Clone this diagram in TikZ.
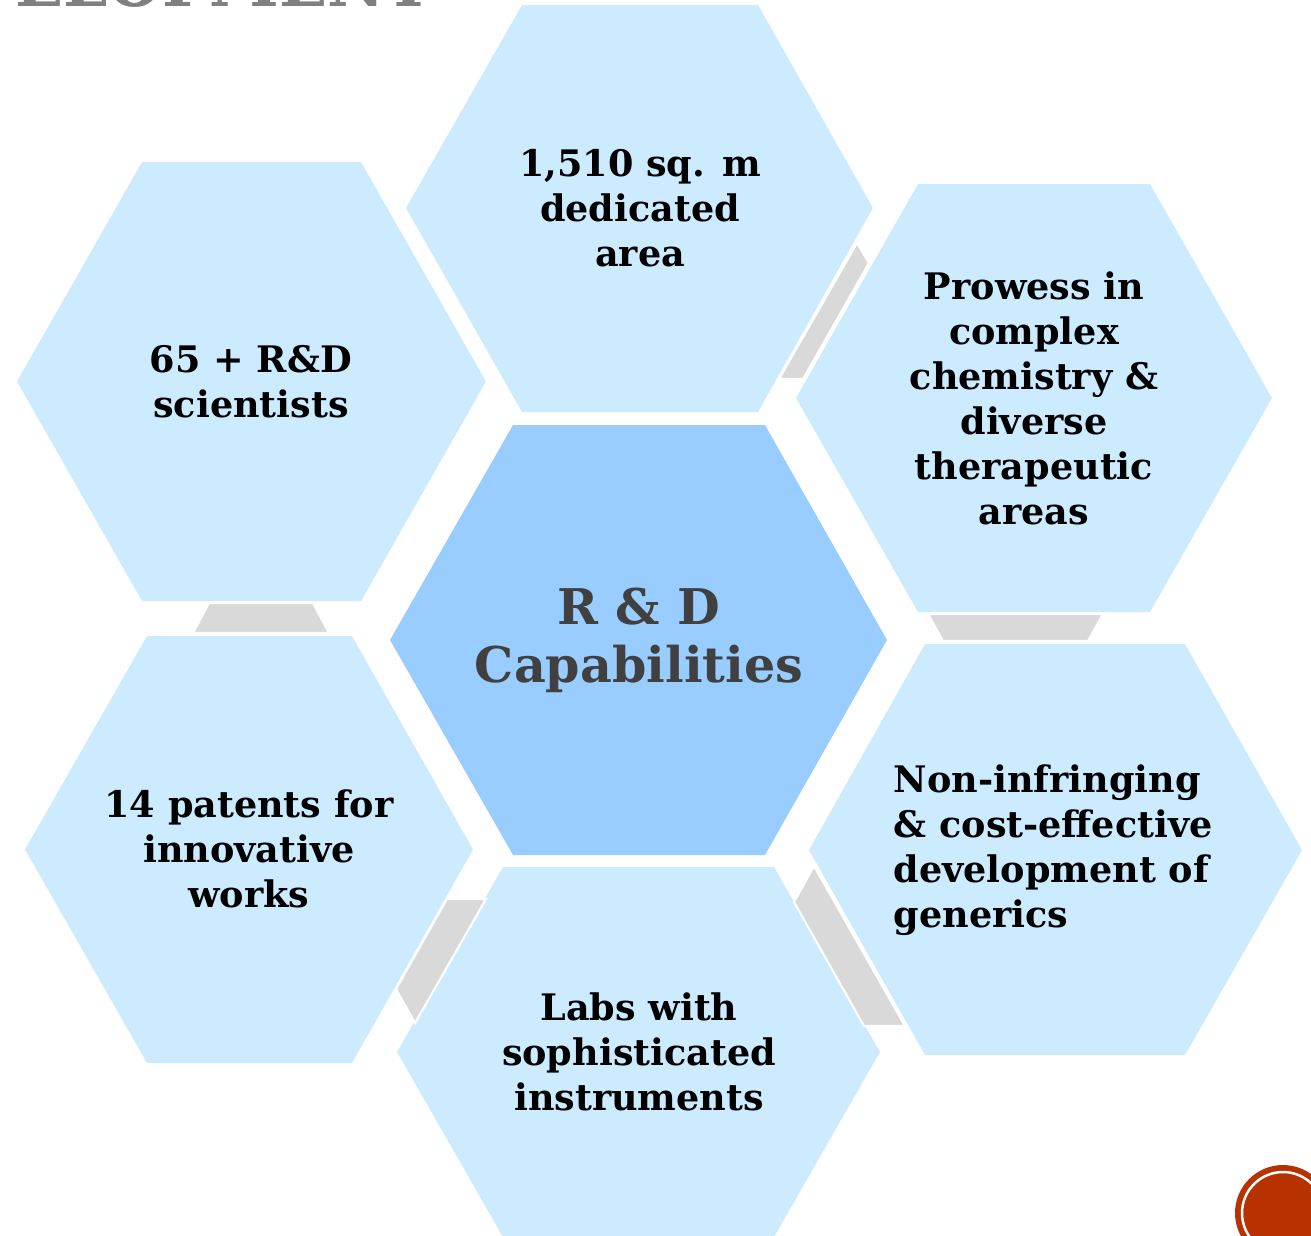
\documentclass[tikz,border=0pt]{standalone}
\usepackage{fontspec}
\setmainfont{DejaVu Serif}
\definecolor{hexblue}{HTML}{CCEBFF}
\definecolor{coreblue}{HTML}{99CCFF}
\definecolor{linkgray}{HTML}{D9D9D9}
\definecolor{titlegray}{HTML}{808080}
\definecolor{coretext}{HTML}{404040}
\definecolor{badgered}{HTML}{B83200}

\begin{document}
\begin{tikzpicture}[
    hex/.style = {fill=hexblue},
    link/.style = {fill=linkgray, draw=white, line width=.6pt},
    hextext/.style = {align=center, inner sep=0pt,
      font=\fontsize{10.4}{12.8}\selectfont\bfseries},
  ]
  \useasboundingbox (0,0) rectangle (13.11,-12.35);
  \clip (0,0) rectangle (13.11,-12.35);

  \node [anchor=base east, inner sep=0pt, text=titlegray, xscale=.92, transform shape,
    font=\fontsize{19.5}{22}\selectfont\bfseries] (title) at (4.33,-.065) {VELOPMENT};

  \fill [hex] (1.42,-1.62) -- (3.61,-1.62) -- (4.86,-3.815) -- (3.61,-6.01) -- (1.42,-6.01) -- (.17,-3.815) -- cycle;
  \fill [hex] (5.22,-.05) -- (7.58,-.05) -- (8.73,-2.08) -- (7.58,-4.12) -- (5.22,-4.12) -- (4.06,-2.08) -- cycle;
  \fill [hex] (9.18,-1.84) -- (11.50,-1.84) -- (12.72,-3.98) -- (11.50,-6.12) -- (9.18,-6.12) -- (7.96,-3.98) -- cycle;
  \fill [hex] (9.25,-6.44) -- (11.85,-6.44) -- (13.02,-8.50) -- (11.85,-10.55) -- (9.25,-10.55) -- (8.09,-8.50) -- cycle;
  \fill [hex] (1.47,-6.36) -- (3.52,-6.36) -- (4.73,-8.495) -- (3.52,-10.63) -- (1.47,-10.63) -- (.25,-8.495) -- cycle;
  \fill [hex] (5.03,-8.67) -- (7.74,-8.67) -- (8.80,-10.52) -- (7.74,-12.37) -- (5.03,-12.37) -- (3.97,-10.52) -- cycle;
  \fill [coreblue] (5.13,-4.25) -- (7.65,-4.25) -- (8.87,-6.40) -- (7.65,-8.55) -- (5.13,-8.55) -- (3.90,-6.40) -- cycle;

  \filldraw [link] (8.57,-2.43) -- (8.69,-2.63) -- (8.03,-3.79) -- (7.79,-3.79) -- cycle;
  \filldraw [link] (2.09,-6.03) -- (3.13,-6.03) -- (3.29,-6.33) -- (1.93,-6.33) -- cycle;
  \filldraw [link] (9.28,-6.14) -- (11.03,-6.14) -- (10.88,-6.41) -- (9.43,-6.41) -- cycle;
  \filldraw [link] (4.47,-8.99) -- (4.86,-8.99) -- (4.15,-10.23) -- (3.96,-9.89) -- cycle;
  \filldraw [link] (8.14,-8.66) -- (7.94,-9.02) -- (8.64,-10.26) -- (9.05,-10.26) -- cycle;

  \node [hextext] (staff) at (2.51,-3.82) {65 + R\&D\\scientists};
  \node [hextext] (area) at (6.40,-2.08) {1,510 sq. m\\dedicated\\area};
  \node [hextext] (prowess) at (10.34,-3.98) {Prowess in\\complex\\chemistry \&\\diverse\\therapeutic\\areas};
  \node [hextext, align=left, anchor=west] (generics) at (8.93,-8.50) {Non-infringing\\\& cost-effective\\development of\\generics};
  \node [hextext] (patents) at (2.49,-8.49) {14 patents for\\innovative\\works};
  \node [hextext] (labs) at (6.39,-10.52) {Labs with\\sophisticated\\instruments};
  \node [hextext, text=coretext, font=\fontsize{14}{16.5}\selectfont\bfseries] (core) at (6.39,-6.40) {R \& D\\Capabilities};

  \fill [badgered] (12.83,-12.13) circle (.48);
  \draw [white, line width=.7pt] (12.83,-12.13) circle (.41);
\end{tikzpicture}
\end{document}
